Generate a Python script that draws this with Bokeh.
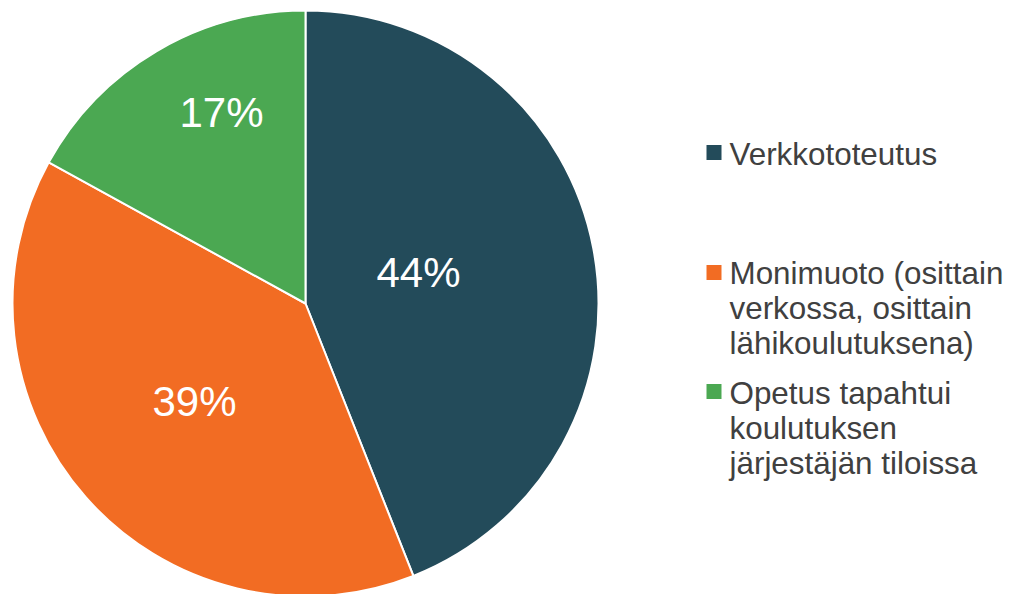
import math
from bokeh.plotting import figure
from bokeh.models import Range1d, ColumnDataSource
from bokeh.core.properties import value
from bokeh.embed import file_html
from bokeh.resources import INLINE

# ---- data ----
categories = ["Verkkototeutus",
              "Monimuoto (osittain\nverkossa, osittain\nlähikoulutuksena)",
              "Opetus tapahtui\nkoulutuksen\njärjestäjän tiloissa"]
shares = [44, 39, 17]
labels = ["44%", "39%", "17%"]
colors = ["#234B5A", "#F26C23", "#4BA852"]

# ---- layout (pixel units, y measured from bottom) ----
W, H = 1013, 594
cx, cy, R = 305, 291, 293
label_pos = [(418, 322), (194, 193), (221, 482)]
legend_x = 729
legend_baselines = [440, 321, 201]
sq_centers = [442, 322, 203]
line_h = 35
sq = 15

p = figure(width=W, height=H, output_backend="svg", toolbar_location=None,
           x_range=Range1d(0, W), y_range=Range1d(0, H), min_border=0)
p.axis.visible = False
p.grid.visible = False
p.outline_line_color = None
p.background_fill_color = "white"
p.border_fill_color = "white"

# wedges: start at top, clockwise
total = float(sum(shares))
starts, ends = [], []
a = math.pi / 2
for s in shares:
    e = a - 2 * math.pi * s / total
    starts.append(e)
    ends.append(a)
    a = e

src = ColumnDataSource(dict(x=[cx] * 3, y=[cy] * 3, start=starts, end=ends,
                            color=colors))
p.wedge(x="x", y="y", radius=R, start_angle="start", end_angle="end",
        fill_color="color", line_color="white", line_width=2, source=src)

# percentage labels
p.text(x=[q[0] for q in label_pos], y=[q[1] for q in label_pos],
       text=labels, text_color="white", text_font=value("Liberation Sans"),
       text_font_size="42px", text_align="center", text_baseline="middle")

# legend
for cat, col, base, sc in zip(categories, colors, legend_baselines, sq_centers):
    lines = cat.split("\n")
    p.rect(x=[legend_x - 8 - sq / 2], y=[sc], width=sq, height=sq,
           fill_color=col, line_color=None)
    p.text(x=[legend_x] * len(lines),
           y=[base - i * line_h for i in range(len(lines))],
           text=lines, text_color="#404040",
           text_font=value("Liberation Sans"), text_font_size="31.4px",
           text_align="left", text_baseline="alphabetic")

open("out.html", "w").write(file_html(p, INLINE))
